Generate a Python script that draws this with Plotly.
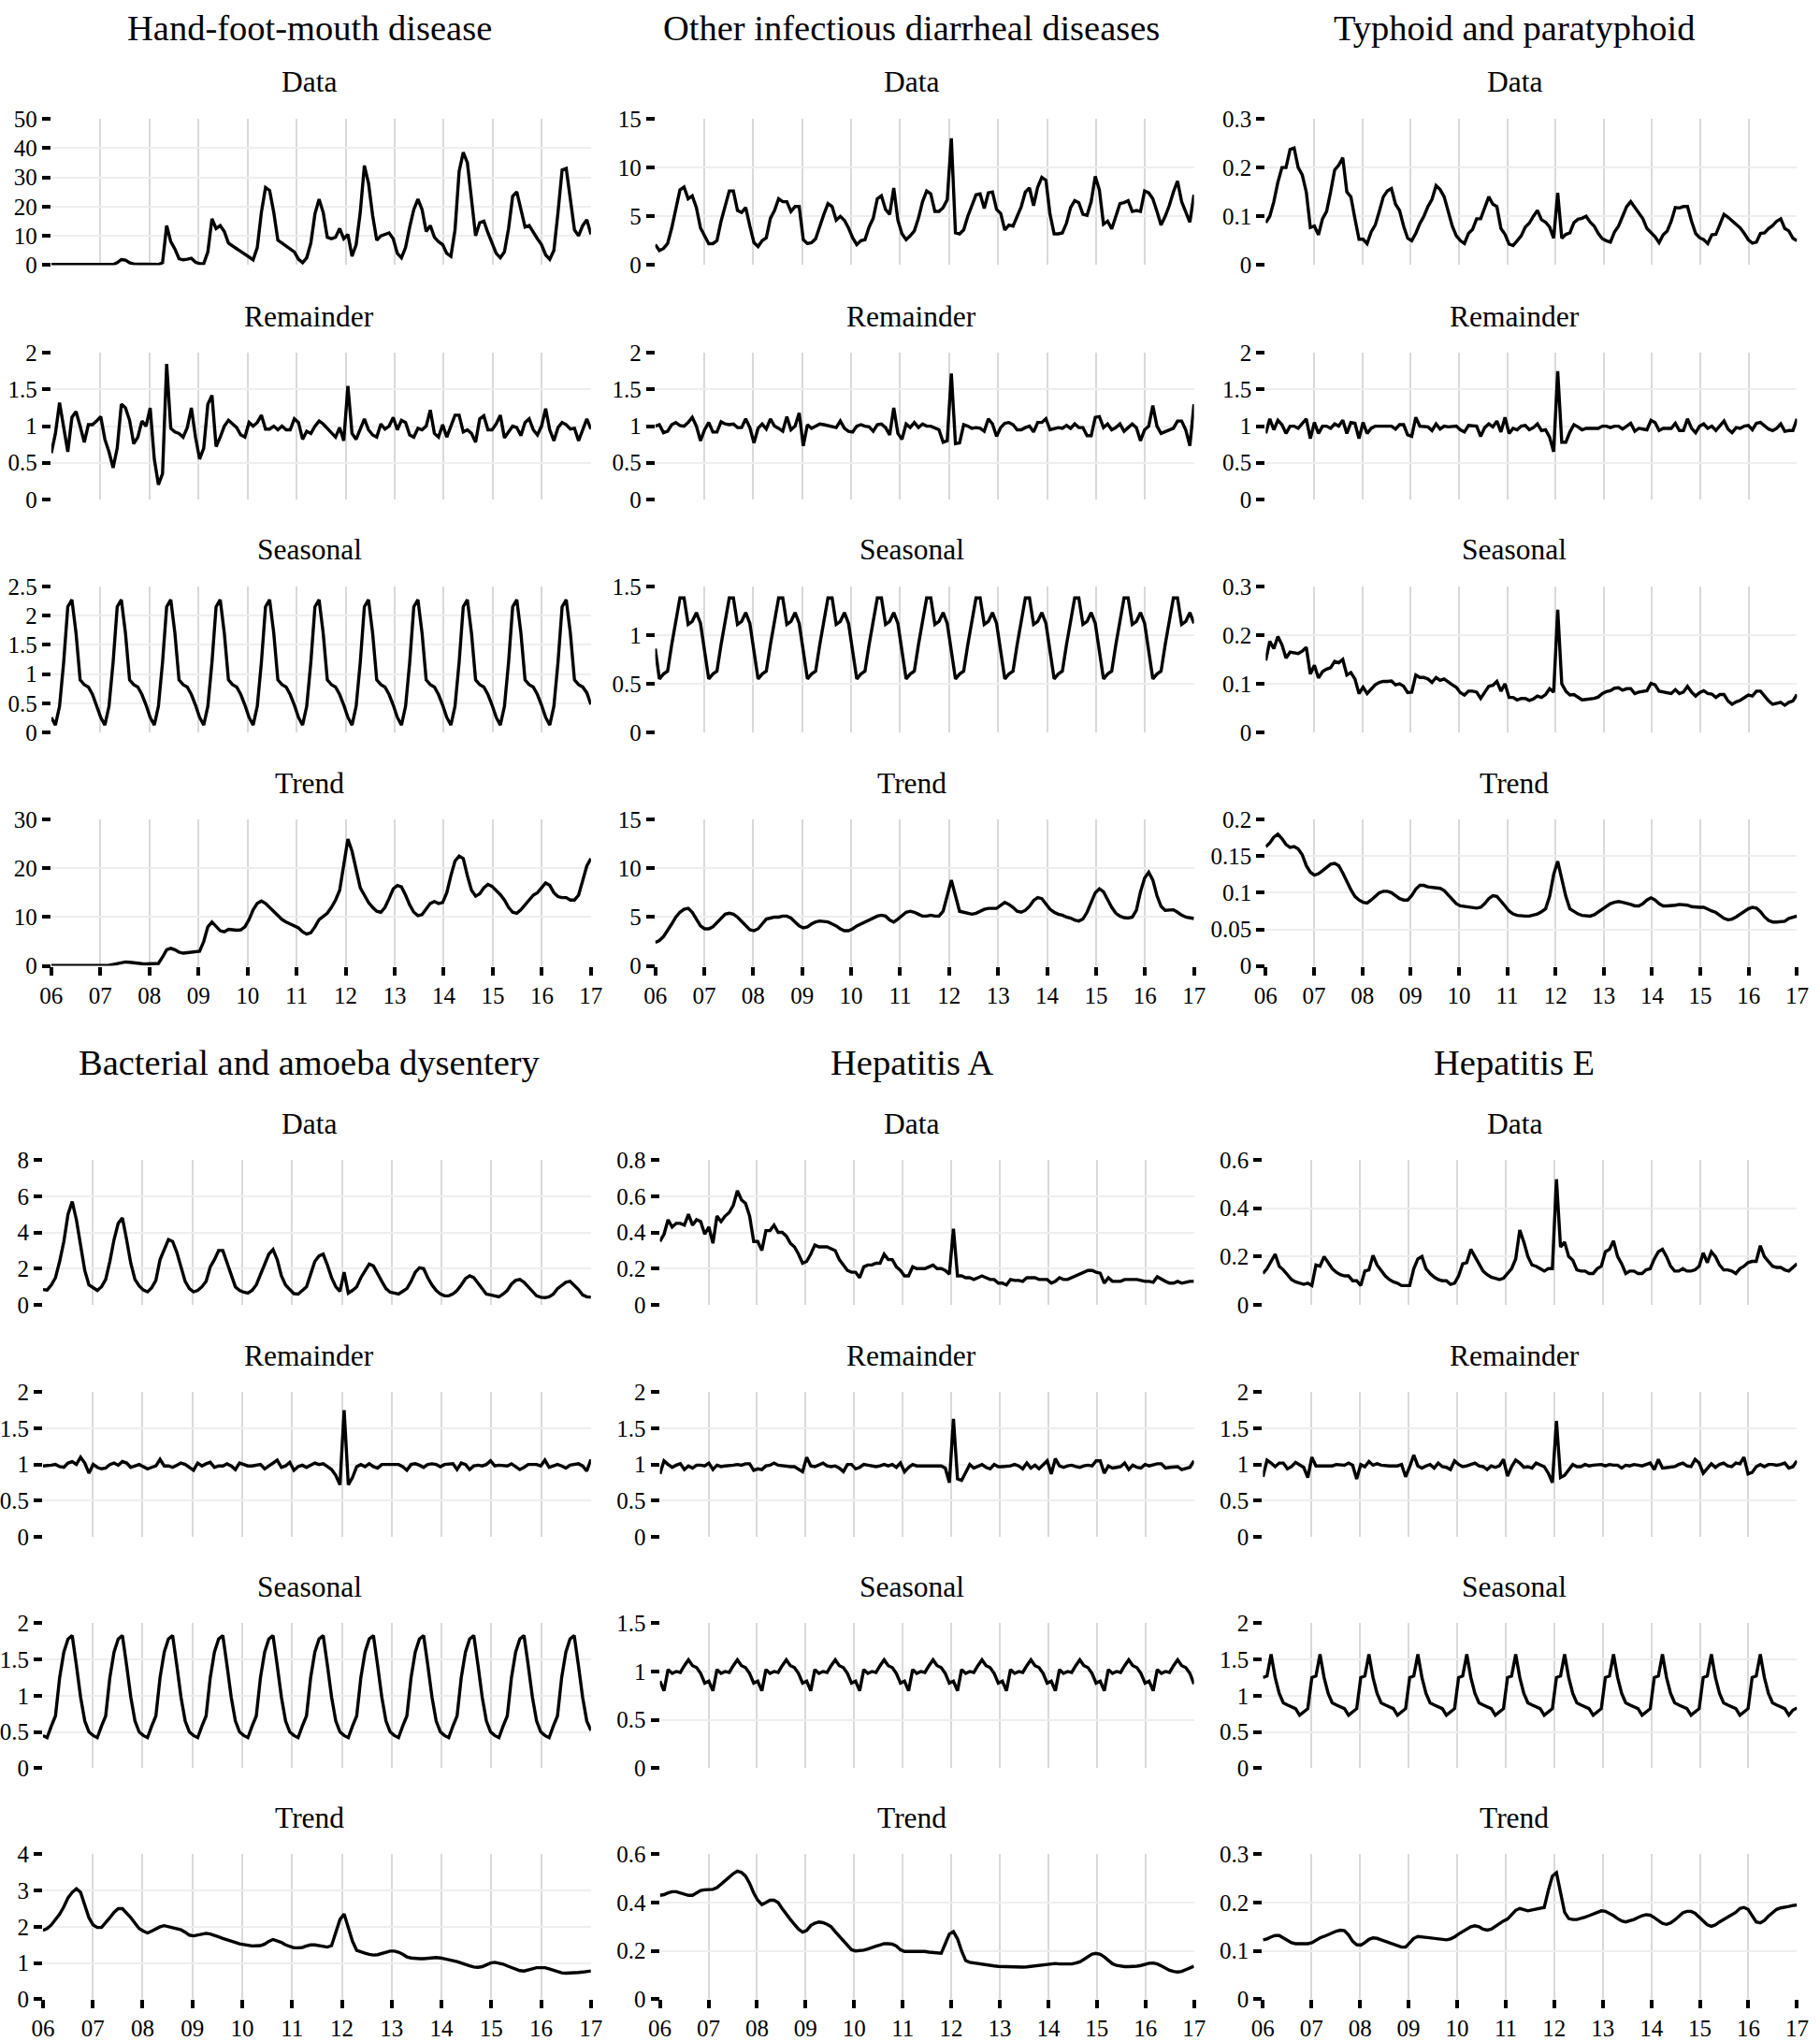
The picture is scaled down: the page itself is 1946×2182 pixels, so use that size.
import plotly.graph_objects as go

FONT = "Liberation Serif"

disease_names = ["Hand-foot-mouth disease", "Other infectious diarrheal diseases",
                 "Typhoid and paratyphoid", "Bacterial and amoeba dysentery",
                 "Hepatitis A", "Hepatitis E"]
panel_names = ["Data", "Remainder", "Seasonal", "Trend"]
year_ticks = list(range(2006, 2018))
year_labels = ["06", "07", "08", "09", "10", "11", "12", "13", "14", "15", "16", "17"]

# ---------------- Hand-foot-mouth disease ----------------
hfm_data = [
    0.2, 0.2, 0.2, 0.2, 0.3, 0.3, 0.2, 0.2, 0.2, 0.2, 0.2, 0.2,
    0.2, 0.2, 0.2, 0.2, 0.8, 1.9, 1.7, 0.8, 0.4, 0.4, 0.4, 0.4,
    0.3, 0.3, 0.2, 0.8, 13.5, 8.0, 5.5, 2.2, 1.8, 2.0, 2.3, 1.0,
    0.5, 0.5, 4.5, 15.8, 12.5, 13.5, 11.5, 7.5, 6.5, 5.5, 4.5, 3.5,
    2.8, 1.8, 6.0, 18.0, 26.5, 25.5, 18.0, 8.5, 7.5, 6.5, 5.5, 4.5,
    2.0, 0.8, 2.5, 7.5, 17.5, 22.5, 18.0, 9.5, 9.0, 9.5, 12.5, 9.0,
    10.5, 3.0, 7.0, 18.0, 34.0, 28.0, 17.0, 8.5, 10.0, 10.5, 11.0, 9.0,
    4.0, 2.5, 6.0, 13.0, 19.0, 22.5, 19.0, 11.5, 13.5, 9.5, 8.0, 7.0,
    4.0, 3.0, 12.0, 32.0, 38.5, 35.0, 22.0, 10.0, 14.5, 15.0, 11.0, 7.5,
    4.0, 2.5, 4.5, 12.5, 23.5, 25.0, 19.0, 13.0, 13.5, 11.0, 9.0, 7.0,
    3.5, 2.0, 5.0, 18.0, 32.5, 33.0, 22.0, 12.0, 10.0, 13.5, 15.5, 10.5]
hfm_remainder = [
    0.63, 0.90, 1.32, 0.95, 0.65, 1.12, 1.20, 1.00, 0.78, 1.02, 1.02, 1.07,
    1.13, 0.82, 0.65, 0.43, 0.70, 1.30, 1.25, 1.08, 0.76, 0.85, 1.07, 1.00,
    1.25, 0.55, 0.20, 0.35, 1.85, 0.97, 0.92, 0.90, 0.85, 0.98, 1.25, 0.85,
    0.55, 0.70, 1.30, 1.42, 0.72, 0.85, 1.00, 1.08, 1.03, 0.98, 0.88, 0.85,
    1.05, 1.00, 1.05, 1.15, 0.96, 0.96, 1.00, 0.95, 1.00, 0.95, 0.95, 1.10,
    1.05, 0.82, 0.93, 0.90, 1.00, 1.07, 1.03, 0.97, 0.92, 0.85, 0.98, 0.80,
    1.55, 0.90, 0.82, 0.95, 1.10, 0.95, 0.88, 0.85, 1.03, 0.96, 1.00, 1.12,
    0.95, 1.08, 1.05, 0.88, 0.85, 0.97, 0.95, 1.00, 1.22, 0.90, 0.85, 1.02,
    0.85, 1.00, 1.15, 1.15, 0.92, 0.95, 0.90, 0.78, 1.10, 1.14, 0.95, 0.95,
    1.03, 1.15, 0.84, 0.92, 1.00, 0.98, 0.87, 1.05, 1.10, 0.95, 0.88, 1.00,
    1.24, 0.95, 0.80, 0.98, 1.05, 1.02, 0.96, 0.97, 0.80, 0.95, 1.10, 0.96]
hfm_seasonal = [
    0.26, 0.13, 0.45, 1.2, 2.15, 2.27, 1.7, 0.9, 0.82, 0.78, 0.65, 0.47,
    0.26, 0.13, 0.45, 1.2, 2.15, 2.27, 1.7, 0.9, 0.82, 0.78, 0.65, 0.47,
    0.26, 0.13, 0.45, 1.2, 2.15, 2.27, 1.7, 0.9, 0.82, 0.78, 0.65, 0.47,
    0.26, 0.13, 0.45, 1.2, 2.15, 2.27, 1.7, 0.9, 0.82, 0.78, 0.65, 0.47,
    0.26, 0.13, 0.45, 1.2, 2.15, 2.27, 1.7, 0.9, 0.82, 0.78, 0.65, 0.47,
    0.26, 0.13, 0.45, 1.2, 2.15, 2.27, 1.7, 0.9, 0.82, 0.78, 0.65, 0.47,
    0.26, 0.13, 0.45, 1.2, 2.15, 2.27, 1.7, 0.9, 0.82, 0.78, 0.65, 0.47,
    0.26, 0.13, 0.45, 1.2, 2.15, 2.27, 1.7, 0.9, 0.82, 0.78, 0.65, 0.47,
    0.26, 0.13, 0.45, 1.2, 2.15, 2.27, 1.7, 0.9, 0.82, 0.78, 0.65, 0.47,
    0.26, 0.13, 0.45, 1.2, 2.15, 2.27, 1.7, 0.9, 0.82, 0.78, 0.65, 0.47,
    0.26, 0.13, 0.45, 1.2, 2.15, 2.27, 1.7, 0.9, 0.82, 0.78, 0.68, 0.48]
hfm_trend = [
    0.1, 0.1, 0.1, 0.1, 0.1, 0.1, 0.1, 0.1, 0.1, 0.1, 0.1, 0.1,
    0.1, 0.1, 0.15, 0.3, 0.5, 0.75, 0.8, 0.75, 0.6, 0.5, 0.45, 0.4,
    0.4, 0.35, 0.5, 1.8, 3.3, 3.6, 3.3, 2.8, 2.6, 2.7, 2.8, 2.8,
    3.0, 5.0, 8.0, 9.0, 8.0, 7.2, 7.0, 7.5, 7.4, 7.3, 7.4, 8.0,
    9.5, 11.5, 12.8, 13.3, 12.8, 12.0, 11.0, 10.3, 9.5, 9.0, 8.6, 8.3,
    7.8, 7.0, 6.5, 6.8, 8.0, 9.5, 10.2, 10.8, 12.0, 13.5, 15.5, 21.0,
    26.0, 23.5, 19.5, 16.0, 14.5, 13.0, 12.0, 11.2, 11.0, 12.0, 13.8, 15.8,
    16.5, 16.2, 14.5, 12.5, 11.0, 10.3, 10.5, 11.8, 12.8, 13.2, 12.8, 13.0,
    15.0, 18.5, 21.5, 22.5, 22.0, 18.5, 15.5, 14.3, 14.8, 16.0, 16.7, 16.3,
    15.5, 14.6, 13.5, 12.0, 11.0, 10.8, 11.5, 12.5, 13.6, 14.5, 15.0, 16.0,
    17.0, 16.5, 15.0, 14.2, 14.0, 14.0, 13.5, 13.5, 14.5, 17.5, 20.5, 22.0]

# ---------------- Other infectious diarrheal diseases ----------------
oid_data = [
    2.1, 1.5, 1.7, 2.2, 3.8, 5.8, 7.7, 8.0, 6.8, 7.1, 5.9, 3.8,
    3.0, 2.2, 2.2, 2.5, 4.5, 6.0, 7.6, 7.6, 5.6, 5.4, 5.9, 4.0,
    2.3, 1.9, 2.5, 2.8, 4.8, 5.6, 6.8, 6.5, 6.5, 5.5, 6.0, 6.0,
    2.6, 2.2, 2.3, 2.7, 4.0, 5.2, 6.3, 6.0, 4.6, 5.0, 4.6, 3.8,
    2.8, 2.1, 2.5, 2.6, 3.9, 4.8, 6.8, 7.1, 5.7, 5.2, 7.9, 4.6,
    3.2, 2.6, 3.0, 3.5, 4.8, 6.5, 7.6, 7.3, 5.5, 5.5, 5.9, 6.7,
    13.0, 3.3, 3.2, 3.6, 5.0, 6.0, 7.2, 7.3, 5.8, 7.4, 7.5, 5.7,
    5.3, 3.6, 4.1, 4.0, 5.0, 6.0, 7.5, 7.9, 6.1, 8.0, 9.0, 8.7,
    5.2, 3.2, 3.2, 3.3, 4.3, 5.9, 6.6, 6.4, 5.2, 5.1, 6.5, 9.1,
    7.7, 4.2, 4.5, 3.7, 5.0, 6.3, 6.4, 6.6, 5.5, 5.6, 5.5, 7.6,
    7.4, 6.8, 5.5, 4.1, 5.0, 6.1, 7.5, 8.6, 6.5, 5.5, 4.4, 7.2]
oid_remainder = [
    1.0, 1.02, 0.91, 0.93, 1.02, 1.05, 1.01, 1.0, 1.05, 1.12, 1.0, 0.8,
    0.95, 1.05, 0.92, 0.92, 1.06, 1.03, 1.02, 1.03, 0.98, 0.98, 1.1, 0.98,
    0.77, 0.97, 1.03, 0.96, 1.1, 1.0, 0.97, 0.93, 1.13, 0.95, 1.0, 1.18,
    0.73, 1.02, 0.97, 1.0, 1.03, 1.02, 1.01, 1.0, 0.98, 1.07, 0.97, 0.93,
    0.92, 1.0, 1.02, 1.0, 0.99, 0.93, 1.02, 1.03, 0.98, 0.88, 1.25, 0.9,
    0.82, 1.03, 0.98, 1.05, 0.98, 1.03, 1.0, 1.0, 0.98, 0.95, 0.78, 0.8,
    1.72, 0.76, 0.77, 1.02, 1.0, 0.97, 0.98, 0.97, 0.93, 1.1, 1.03, 0.86,
    0.98, 1.04, 1.05, 1.02, 0.95, 0.95, 0.98, 1.0, 0.92, 1.05, 1.05, 1.1,
    0.95, 0.97, 0.98, 0.97, 1.01, 0.97, 1.03, 0.98, 0.98, 0.87, 0.87, 1.12,
    1.13, 0.98, 1.03, 0.95, 0.98, 1.03, 0.93, 0.98, 1.03, 0.98, 0.8, 0.95,
    1.0, 1.28, 1.0, 0.9, 0.92, 0.95, 0.97, 1.07, 1.07, 0.95, 0.73, 1.3]
oid_seasonal = [
    0.86, 0.55, 0.60, 0.63, 0.90, 1.15, 1.38, 1.38, 1.11, 1.14, 1.23, 1.12,
    0.86, 0.55, 0.60, 0.63, 0.90, 1.15, 1.38, 1.38, 1.11, 1.14, 1.23, 1.12,
    0.86, 0.55, 0.60, 0.63, 0.90, 1.15, 1.38, 1.38, 1.11, 1.14, 1.23, 1.12,
    0.86, 0.55, 0.60, 0.63, 0.90, 1.15, 1.38, 1.38, 1.11, 1.14, 1.23, 1.12,
    0.86, 0.55, 0.60, 0.63, 0.90, 1.15, 1.38, 1.38, 1.11, 1.14, 1.23, 1.12,
    0.86, 0.55, 0.60, 0.63, 0.90, 1.15, 1.38, 1.38, 1.11, 1.14, 1.23, 1.12,
    0.86, 0.55, 0.60, 0.63, 0.90, 1.15, 1.38, 1.38, 1.11, 1.14, 1.23, 1.12,
    0.86, 0.55, 0.60, 0.63, 0.90, 1.15, 1.38, 1.38, 1.11, 1.14, 1.23, 1.12,
    0.86, 0.55, 0.60, 0.63, 0.90, 1.15, 1.38, 1.38, 1.11, 1.14, 1.23, 1.12,
    0.86, 0.55, 0.60, 0.63, 0.90, 1.15, 1.38, 1.38, 1.11, 1.14, 1.23, 1.12,
    0.86, 0.55, 0.60, 0.63, 0.90, 1.15, 1.38, 1.38, 1.11, 1.14, 1.23, 1.12]
oid_trend = [
    2.4, 2.6, 3.0, 3.6, 4.3, 5.0, 5.5, 5.8, 5.9, 5.5, 4.8, 4.1,
    3.8, 3.8, 4.0, 4.4, 4.9, 5.3, 5.4, 5.3, 5.0, 4.6, 4.1, 3.7,
    3.6, 3.8, 4.3, 4.8, 4.9, 5.0, 5.0, 5.1, 5.1, 4.9, 4.5, 4.1,
    3.9, 4.0, 4.3, 4.5, 4.6, 4.55, 4.5, 4.3, 4.1, 3.8, 3.6, 3.6,
    3.8, 4.1, 4.3, 4.5, 4.7, 4.9, 5.1, 5.2, 5.1, 4.7, 4.5, 4.8,
    5.2, 5.5, 5.6, 5.5, 5.3, 5.1, 5.1, 5.2, 5.1, 5.1, 5.6, 7.2,
    8.8, 7.2, 5.6, 5.5, 5.4, 5.3, 5.4, 5.6, 5.8, 5.9, 5.9, 5.9,
    6.2, 6.5, 6.3, 6.0, 5.6, 5.5, 5.7, 6.1, 6.7, 7.0, 6.9, 6.4,
    5.8, 5.5, 5.3, 5.2, 5.0, 4.9, 4.7, 4.6, 4.8, 5.5, 6.5, 7.5,
    7.9, 7.6, 6.8, 6.0, 5.4, 5.1, 4.95, 4.9, 5.0, 5.7, 7.6, 9.0,
    9.6, 8.8, 7.2, 6.1, 5.7, 5.7, 5.75, 5.5, 5.2, 5.0, 4.9, 4.85]

# ---------------- Typhoid and paratyphoid ----------------
typ_data = [
    0.087, 0.1, 0.13, 0.17, 0.2, 0.2, 0.237, 0.24, 0.2, 0.185, 0.15, 0.077,
    0.08, 0.062, 0.095, 0.11, 0.15, 0.195, 0.205, 0.22, 0.15, 0.14, 0.095, 0.053,
    0.053, 0.044, 0.068, 0.082, 0.11, 0.14, 0.152, 0.157, 0.125, 0.112, 0.08, 0.055,
    0.05, 0.065, 0.085, 0.1, 0.12, 0.135, 0.163, 0.155, 0.14, 0.11, 0.08, 0.06,
    0.05, 0.044, 0.065, 0.073, 0.095, 0.095, 0.12, 0.14, 0.125, 0.12, 0.075, 0.063,
    0.043, 0.04, 0.05, 0.06, 0.078, 0.086, 0.1, 0.112, 0.093, 0.088, 0.078, 0.055,
    0.148, 0.055, 0.063, 0.066, 0.087, 0.094, 0.096, 0.1, 0.088, 0.08, 0.065, 0.054,
    0.05, 0.047, 0.068, 0.08, 0.1, 0.12, 0.13, 0.118, 0.105, 0.095, 0.075, 0.066,
    0.058, 0.046, 0.062, 0.07, 0.09, 0.118, 0.117, 0.12, 0.12, 0.09, 0.065, 0.056,
    0.052, 0.044, 0.062, 0.063, 0.085, 0.104, 0.098, 0.09, 0.084, 0.076, 0.065, 0.052,
    0.045, 0.047, 0.065, 0.066, 0.075, 0.081, 0.09, 0.095, 0.075, 0.07, 0.055, 0.05]
typ_remainder = [
    0.9, 1.1, 0.95, 1.08, 1.02, 0.9, 1.0, 1.0, 0.97, 1.03, 1.1, 0.83,
    1.05, 0.9, 1.0, 1.0, 0.97, 1.03, 1.0, 1.08, 0.9, 1.05, 1.04, 0.83,
    1.05, 0.9, 0.97, 1.0, 1.0, 1.0, 1.0, 1.0, 0.96, 1.02, 1.02, 0.88,
    0.86, 1.12, 1.0, 1.0, 0.99, 0.94, 1.03, 0.96, 1.0, 0.99, 0.99, 1.0,
    0.95, 0.92, 1.01, 1.01, 1.0, 0.86, 0.98, 1.03, 0.99, 1.07, 0.92, 1.12,
    0.9, 0.97, 0.95, 1.0, 1.01, 0.95, 0.98, 1.03, 0.94, 0.95, 0.85, 0.65,
    1.75, 0.78, 0.78, 0.92, 1.02, 0.99, 0.95, 0.97, 0.97, 0.97, 0.97, 1.0,
    1.0, 0.98, 1.0, 1.0, 0.96, 1.0, 1.04, 0.93, 0.97, 0.96, 0.95, 1.08,
    1.05, 0.94, 0.97, 0.97, 0.97, 1.04, 0.94, 0.94, 1.1, 0.97, 0.91, 1.0,
    1.03, 0.97, 1.0, 0.94, 1.0, 1.07, 0.96, 0.91, 0.98, 0.97, 1.0, 1.01,
    0.95, 1.04, 1.05, 1.0, 0.96, 0.94, 0.97, 1.03, 0.93, 0.94, 0.94, 1.1]
typ_seasonal = [
    0.148, 0.187, 0.172, 0.197, 0.18, 0.153, 0.165, 0.163, 0.162, 0.167, 0.175, 0.12,
    0.138, 0.112, 0.125, 0.13, 0.133, 0.146, 0.143, 0.15, 0.118, 0.123, 0.11, 0.08,
    0.093, 0.08, 0.09, 0.098, 0.103, 0.105, 0.105, 0.106, 0.098, 0.1, 0.095, 0.082,
    0.083, 0.118, 0.113, 0.113, 0.11, 0.103, 0.113, 0.107, 0.11, 0.103, 0.098, 0.093,
    0.082, 0.077, 0.085, 0.085, 0.083, 0.07, 0.083, 0.095, 0.097, 0.105, 0.085, 0.1,
    0.072, 0.072, 0.067, 0.07, 0.07, 0.066, 0.069, 0.075, 0.072, 0.078, 0.09, 0.083,
    0.252, 0.1, 0.085, 0.077, 0.078, 0.072, 0.067, 0.068, 0.069, 0.07, 0.073, 0.08,
    0.084, 0.086, 0.091, 0.092, 0.087, 0.09, 0.09, 0.08, 0.083, 0.084, 0.086, 0.101,
    0.098, 0.085, 0.083, 0.082, 0.08, 0.088, 0.08, 0.083, 0.095, 0.083, 0.075, 0.082,
    0.086, 0.08, 0.079, 0.072, 0.078, 0.078, 0.065, 0.058, 0.063, 0.066, 0.072, 0.077,
    0.075, 0.085, 0.085, 0.075, 0.065, 0.058, 0.06, 0.062, 0.056, 0.062, 0.065, 0.078]
typ_trend = [
    0.163, 0.168, 0.176, 0.18, 0.174, 0.166, 0.162, 0.163, 0.16, 0.152, 0.137, 0.128,
    0.124, 0.126, 0.13, 0.135, 0.139, 0.14, 0.137, 0.127, 0.115, 0.104, 0.095, 0.09,
    0.087, 0.086, 0.09, 0.095, 0.1, 0.102, 0.102, 0.1, 0.096, 0.092, 0.09, 0.09,
    0.096, 0.105, 0.11, 0.11, 0.108, 0.107, 0.107, 0.106, 0.103, 0.097, 0.09, 0.085,
    0.082, 0.081, 0.081, 0.08, 0.079, 0.08, 0.085, 0.092, 0.096, 0.095, 0.089, 0.082,
    0.075, 0.071, 0.069, 0.068, 0.068, 0.068, 0.069, 0.071, 0.074, 0.078, 0.095, 0.125,
    0.143, 0.12, 0.095, 0.078, 0.074, 0.071, 0.069, 0.068, 0.068, 0.07, 0.074, 0.078,
    0.082, 0.085, 0.087, 0.088, 0.087, 0.086, 0.084, 0.082, 0.082, 0.085, 0.09, 0.093,
    0.09, 0.085, 0.082, 0.082, 0.082, 0.083, 0.084, 0.084, 0.083, 0.081, 0.08, 0.08,
    0.08, 0.077, 0.075, 0.073, 0.069, 0.065, 0.063, 0.064, 0.067, 0.071, 0.075, 0.078,
    0.08, 0.079, 0.074, 0.067, 0.062, 0.06, 0.06, 0.06, 0.061, 0.065, 0.067, 0.068]

# ---------------- Bacterial and amoeba dysentery ----------------
bad_data = [
    0.85, 0.82, 1.1, 1.5, 2.4, 3.5, 5.0, 5.7, 4.7, 3.4, 1.9, 1.1,
    0.95, 0.8, 1.0, 1.4, 2.4, 3.6, 4.5, 4.8, 3.6, 2.3, 1.4, 1.05,
    0.82, 0.72, 0.95, 1.35, 2.5, 3.0, 3.6, 3.5, 2.9, 2.1, 1.3, 0.9,
    0.72, 0.8, 1.0, 1.3, 2.1, 2.5, 3.0, 3.0, 2.3, 1.6, 1.0, 0.8,
    0.7, 0.65, 0.8, 1.1, 1.7, 2.2, 2.8, 3.05, 2.5, 1.6, 1.1, 0.85,
    0.62, 0.6, 0.8, 1.0, 1.7, 2.4, 2.7, 2.8, 2.2, 1.5, 1.0, 0.75,
    1.8, 0.65, 0.8, 1.0, 1.5, 1.9, 2.25, 2.15, 1.7, 1.3, 0.9, 0.7,
    0.65, 0.6, 0.75, 0.9, 1.3, 1.8, 2.05, 2.0, 1.5, 1.1, 0.8, 0.6,
    0.5, 0.5, 0.6, 0.8, 1.1, 1.45, 1.6, 1.5, 1.2, 0.9, 0.6, 0.55,
    0.5, 0.45, 0.6, 0.8, 1.15, 1.35, 1.4, 1.25, 1.0, 0.75, 0.5, 0.42,
    0.4, 0.45, 0.6, 0.9, 1.1, 1.25, 1.3, 1.1, 0.85, 0.55, 0.45, 0.42]
bad_remainder = [
    0.98, 0.98, 0.99, 1.0, 0.97, 0.96, 1.02, 1.04, 1.0, 1.1, 1.02, 0.88,
    1.0, 0.96, 0.94, 0.95, 1.0, 1.02, 0.99, 1.04, 1.02, 0.96, 0.98, 1.0,
    0.97, 0.94, 0.96, 0.98, 1.07, 0.98, 0.98, 0.96, 0.99, 1.02, 1.0, 0.96,
    0.92, 1.02, 0.98, 1.01, 1.03, 0.96, 0.98, 0.98, 1.01, 0.98, 0.93, 1.02,
    1.0, 0.98, 0.98, 0.99, 1.0, 0.94, 0.98, 1.02, 1.06, 0.96, 0.98, 1.03,
    0.92, 0.97, 0.99, 0.96, 0.99, 1.02, 1.0, 1.01, 0.97, 0.93, 0.85, 0.72,
    1.75, 0.72, 0.82, 0.97, 1.0, 0.97, 1.01, 0.97, 0.95, 1.0, 1.0, 1.0,
    1.01, 1.0, 0.97, 0.92, 1.0, 1.01, 0.99, 0.96, 1.0, 1.01, 1.0, 0.97,
    1.0, 1.0, 1.01, 0.93, 1.02, 1.0, 0.93, 0.98, 0.99, 0.98, 1.0, 1.05,
    0.98, 0.99, 0.99, 0.98, 1.01, 0.97, 0.93, 0.96, 1.0, 1.0, 1.0, 0.98,
    1.06, 0.96, 0.98, 1.0, 0.98, 0.95, 0.99, 1.0, 1.01, 0.98, 0.91, 1.07]
bad_seasonal = [
    0.45, 0.42, 0.58, 0.72, 1.25, 1.6, 1.78, 1.83, 1.42, 0.98, 0.65, 0.50,
    0.45, 0.42, 0.58, 0.72, 1.25, 1.6, 1.78, 1.83, 1.42, 0.98, 0.65, 0.50,
    0.45, 0.42, 0.58, 0.72, 1.25, 1.6, 1.78, 1.83, 1.42, 0.98, 0.65, 0.50,
    0.45, 0.42, 0.58, 0.72, 1.25, 1.6, 1.78, 1.83, 1.42, 0.98, 0.65, 0.50,
    0.45, 0.42, 0.58, 0.72, 1.25, 1.6, 1.78, 1.83, 1.42, 0.98, 0.65, 0.50,
    0.45, 0.42, 0.58, 0.72, 1.25, 1.6, 1.78, 1.83, 1.42, 0.98, 0.65, 0.50,
    0.45, 0.42, 0.58, 0.72, 1.25, 1.6, 1.78, 1.83, 1.42, 0.98, 0.65, 0.50,
    0.45, 0.42, 0.58, 0.72, 1.25, 1.6, 1.78, 1.83, 1.42, 0.98, 0.65, 0.50,
    0.45, 0.42, 0.58, 0.72, 1.25, 1.6, 1.78, 1.83, 1.42, 0.98, 0.65, 0.50,
    0.45, 0.42, 0.58, 0.72, 1.25, 1.6, 1.78, 1.83, 1.42, 0.98, 0.65, 0.50,
    0.45, 0.42, 0.58, 0.72, 1.25, 1.6, 1.78, 1.83, 1.42, 0.98, 0.65, 0.52]
bad_trend = [
    1.9, 1.95, 2.05, 2.2, 2.35, 2.55, 2.8, 2.95, 3.05, 2.95, 2.6, 2.25,
    2.05, 1.98, 1.98, 2.1, 2.25, 2.4, 2.5, 2.5, 2.38, 2.25, 2.1, 1.95,
    1.88, 1.83, 1.88, 1.95, 2.0, 2.03, 2.0, 1.97, 1.95, 1.92, 1.85, 1.77,
    1.75, 1.77, 1.8, 1.82, 1.8, 1.75, 1.72, 1.68, 1.65, 1.6, 1.57, 1.53,
    1.5, 1.49, 1.47, 1.47, 1.48, 1.52, 1.6, 1.65, 1.62, 1.57, 1.5, 1.45,
    1.42, 1.42, 1.43, 1.47, 1.5, 1.5, 1.48, 1.46, 1.44, 1.48, 1.85, 2.2,
    2.35, 2.0, 1.6, 1.35, 1.3, 1.27, 1.24, 1.22, 1.23, 1.27, 1.31, 1.33,
    1.33, 1.3, 1.24, 1.17, 1.14, 1.12, 1.12, 1.12, 1.13, 1.15, 1.15, 1.14,
    1.12, 1.1, 1.07, 1.04, 1.0, 0.95, 0.92, 0.89, 0.88, 0.9, 0.95, 1.0,
    1.02, 1.0, 0.97, 0.92, 0.88, 0.83, 0.79, 0.78, 0.8, 0.84, 0.87, 0.87,
    0.87, 0.84, 0.8, 0.76, 0.73, 0.72, 0.72, 0.73, 0.74, 0.75, 0.77, 0.78]

# ---------------- Hepatitis A ----------------
hepa_data = [
    0.35, 0.39, 0.47, 0.43, 0.45, 0.45, 0.44, 0.5, 0.44, 0.47, 0.46, 0.39,
    0.43, 0.34, 0.49, 0.46, 0.49, 0.51, 0.55, 0.63, 0.58, 0.56, 0.49, 0.35,
    0.35, 0.3, 0.41, 0.41, 0.44, 0.4, 0.4, 0.38, 0.34, 0.32, 0.28, 0.23,
    0.24, 0.28, 0.33, 0.32, 0.32, 0.32, 0.31, 0.3, 0.25, 0.22, 0.19, 0.18,
    0.18, 0.15, 0.21, 0.22, 0.22, 0.23, 0.23, 0.28, 0.25, 0.25, 0.21, 0.19,
    0.16, 0.16, 0.21, 0.2, 0.2, 0.2, 0.21, 0.22, 0.2, 0.2, 0.19, 0.17,
    0.42, 0.16, 0.16, 0.15, 0.15, 0.14, 0.15, 0.16, 0.15, 0.14, 0.14, 0.12,
    0.12, 0.11, 0.14, 0.135, 0.135, 0.13, 0.15, 0.15, 0.15, 0.14, 0.14, 0.14,
    0.12, 0.13, 0.15, 0.14, 0.14, 0.15, 0.16, 0.17, 0.18, 0.19, 0.19, 0.18,
    0.175, 0.12, 0.15, 0.13, 0.13, 0.13, 0.14, 0.14, 0.14, 0.14, 0.135, 0.13,
    0.13, 0.125, 0.155, 0.14, 0.13, 0.12, 0.12, 0.13, 0.12, 0.125, 0.13, 0.13]
hepa_remainder = [
    0.87, 1.05, 1.0, 0.96, 0.99, 1.01, 0.93, 0.98, 0.95, 0.99, 0.99, 0.98,
    1.02, 0.93, 0.99, 0.97, 0.98, 0.98, 0.99, 1.0, 0.99, 1.01, 1.01, 0.92,
    0.94, 0.93, 0.98, 0.99, 1.02, 0.99, 0.98, 0.97, 0.97, 0.97, 0.93, 0.9,
    1.1, 0.98, 0.97, 1.0, 1.02, 0.98, 0.97, 0.98, 0.95, 0.9, 1.0, 1.0,
    0.94, 0.96, 1.0, 0.99, 0.98, 0.97, 0.98, 1.0, 0.98, 1.0, 0.96, 1.02,
    0.9, 0.96, 1.0, 0.98, 0.98, 0.98, 0.97, 0.98, 0.97, 0.98, 0.95, 0.75,
    1.63, 0.8, 0.78, 0.9, 1.0, 0.95, 0.97, 1.0, 0.96, 0.94, 1.0, 0.97,
    0.97, 0.97, 0.98, 1.0, 0.98, 0.94, 1.02, 0.95, 0.99, 0.94, 1.0, 1.05,
    0.87, 1.08, 0.98, 0.96, 0.98, 0.99, 0.97, 0.96, 0.98, 0.99, 0.98, 1.05,
    1.05, 0.88, 0.98, 0.95, 0.96, 0.97, 1.02, 0.93, 0.99, 0.96, 0.95, 1.0,
    0.98, 1.0, 1.01, 1.01, 0.95, 0.96, 0.96, 0.97, 0.93, 0.95, 0.96, 1.05]
hepa_seasonal = [
    0.90, 0.80, 1.02, 0.98, 1.00, 0.99, 1.06, 1.12, 1.06, 1.04, 0.98, 0.88,
    0.90, 0.80, 1.02, 0.98, 1.00, 0.99, 1.06, 1.12, 1.06, 1.04, 0.98, 0.88,
    0.90, 0.80, 1.02, 0.98, 1.00, 0.99, 1.06, 1.12, 1.06, 1.04, 0.98, 0.88,
    0.90, 0.80, 1.02, 0.98, 1.00, 0.99, 1.06, 1.12, 1.06, 1.04, 0.98, 0.88,
    0.90, 0.80, 1.02, 0.98, 1.00, 0.99, 1.06, 1.12, 1.06, 1.04, 0.98, 0.88,
    0.90, 0.80, 1.02, 0.98, 1.00, 0.99, 1.06, 1.12, 1.06, 1.04, 0.98, 0.88,
    0.90, 0.80, 1.02, 0.98, 1.00, 0.99, 1.06, 1.12, 1.06, 1.04, 0.98, 0.88,
    0.90, 0.80, 1.02, 0.98, 1.00, 0.99, 1.06, 1.12, 1.06, 1.04, 0.98, 0.88,
    0.90, 0.80, 1.02, 0.98, 1.00, 0.99, 1.06, 1.12, 1.06, 1.04, 0.98, 0.88,
    0.90, 0.80, 1.02, 0.98, 1.00, 0.99, 1.06, 1.12, 1.06, 1.04, 0.98, 0.88,
    0.90, 0.80, 1.02, 0.98, 1.00, 0.99, 1.06, 1.12, 1.06, 1.04, 0.98, 0.87]
hepa_trend = [
    0.43, 0.433, 0.44, 0.445, 0.445, 0.44, 0.435, 0.43, 0.43, 0.44, 0.45, 0.453,
    0.455, 0.455, 0.462, 0.475, 0.49, 0.505, 0.52, 0.53, 0.525, 0.51, 0.48, 0.44,
    0.41, 0.392, 0.4, 0.41, 0.41, 0.4, 0.375, 0.35, 0.33, 0.31, 0.29, 0.278,
    0.285, 0.305, 0.315, 0.32, 0.317, 0.31, 0.3, 0.28, 0.26, 0.24, 0.22, 0.205,
    0.2, 0.2, 0.203, 0.208, 0.215, 0.22, 0.225, 0.23, 0.23, 0.228, 0.22, 0.205,
    0.198, 0.198, 0.2, 0.2, 0.2, 0.198, 0.195, 0.193, 0.19, 0.19, 0.23, 0.27,
    0.28, 0.25, 0.2, 0.16, 0.153, 0.15, 0.147, 0.145, 0.142, 0.14, 0.138, 0.136,
    0.135, 0.134, 0.133, 0.133, 0.133, 0.133, 0.134, 0.136, 0.138, 0.14, 0.143, 0.146,
    0.148, 0.148, 0.146, 0.145, 0.145, 0.146, 0.15, 0.155, 0.165, 0.177, 0.187, 0.19,
    0.186, 0.175, 0.16, 0.147, 0.14, 0.136, 0.135, 0.135, 0.135, 0.137, 0.14, 0.145,
    0.149, 0.15, 0.146, 0.138, 0.128, 0.12, 0.115, 0.113, 0.115, 0.123, 0.131, 0.137]

# ---------------- Hepatitis E ----------------
hepe_data = [
    0.13, 0.15, 0.18, 0.21, 0.16, 0.145, 0.125, 0.105, 0.095, 0.09, 0.085, 0.09,
    0.08, 0.165, 0.16, 0.2, 0.175, 0.15, 0.135, 0.125, 0.12, 0.12, 0.1, 0.1,
    0.08, 0.14, 0.145, 0.205, 0.165, 0.14, 0.12, 0.105, 0.095, 0.09, 0.08, 0.08,
    0.08, 0.15, 0.19, 0.2, 0.15, 0.13, 0.115, 0.105, 0.1, 0.1, 0.085, 0.09,
    0.12, 0.17, 0.175, 0.23, 0.2, 0.175, 0.14, 0.125, 0.115, 0.11, 0.105, 0.11,
    0.13, 0.15, 0.19, 0.31, 0.26, 0.2, 0.165, 0.16, 0.15, 0.14, 0.15, 0.15,
    0.52, 0.24, 0.26, 0.2, 0.185, 0.145, 0.14, 0.14, 0.13, 0.13, 0.15, 0.16,
    0.22, 0.23, 0.265, 0.2, 0.17, 0.13, 0.14, 0.14, 0.13, 0.13, 0.145, 0.15,
    0.19, 0.22, 0.23, 0.2, 0.16, 0.14, 0.14, 0.15, 0.14, 0.14, 0.145, 0.16,
    0.215, 0.175, 0.22, 0.2, 0.165, 0.145, 0.145, 0.14, 0.13, 0.15, 0.16, 0.175,
    0.18, 0.18, 0.245, 0.2, 0.18, 0.16, 0.155, 0.155, 0.145, 0.14, 0.155, 0.17]
hepe_remainder = [
    0.83, 1.06, 1.02, 0.97, 1.02, 1.02, 0.94, 0.97, 1.03, 1.0, 0.96, 0.82,
    1.1, 0.98, 0.98, 0.98, 0.99, 0.98, 1.0, 1.0, 0.99, 1.02, 0.99, 0.8,
    1.0, 0.97, 1.04, 0.99, 1.01, 0.99, 0.98, 0.98, 0.98, 0.98, 1.0, 0.83,
    0.97, 1.13, 0.98, 0.95, 0.98, 1.0, 0.95, 1.02, 0.97, 0.96, 0.93, 1.05,
    1.0, 0.97, 0.98, 1.0, 1.02, 0.98, 0.97, 0.93, 0.98, 0.96, 0.98, 1.07,
    0.84, 0.97, 1.06, 1.02, 0.96, 0.97, 0.95, 1.02, 1.0, 0.97, 0.88, 0.75,
    1.6, 0.82, 0.85, 0.92, 1.0, 0.97, 0.97, 1.0, 0.98, 0.99, 1.0, 1.0,
    0.98, 1.0, 0.99, 0.99, 0.95, 0.99, 0.98, 1.0, 0.99, 0.98, 1.0, 1.02,
    0.93, 1.07, 0.95, 0.96, 0.96, 0.97, 1.0, 1.02, 0.98, 0.97, 1.07, 1.02,
    0.88, 0.95, 1.01, 0.96, 1.0, 1.02, 0.98, 0.97, 1.02, 1.01, 1.1, 0.87,
    0.89, 0.97, 1.0, 0.97, 1.0, 1.0, 0.99, 1.0, 1.02, 0.95, 0.97, 1.05]
hepe_seasonal = [
    1.25, 1.27, 1.57, 1.25, 1.03, 0.90, 0.87, 0.85, 0.82, 0.73, 0.77, 0.82,
    1.25, 1.27, 1.57, 1.25, 1.03, 0.90, 0.87, 0.85, 0.82, 0.73, 0.77, 0.82,
    1.25, 1.27, 1.57, 1.25, 1.03, 0.90, 0.87, 0.85, 0.82, 0.73, 0.77, 0.82,
    1.25, 1.27, 1.57, 1.25, 1.03, 0.90, 0.87, 0.85, 0.82, 0.73, 0.77, 0.82,
    1.25, 1.27, 1.57, 1.25, 1.03, 0.90, 0.87, 0.85, 0.82, 0.73, 0.77, 0.82,
    1.25, 1.27, 1.57, 1.25, 1.03, 0.90, 0.87, 0.85, 0.82, 0.73, 0.77, 0.82,
    1.25, 1.27, 1.57, 1.25, 1.03, 0.90, 0.87, 0.85, 0.82, 0.73, 0.77, 0.82,
    1.25, 1.27, 1.57, 1.25, 1.03, 0.90, 0.87, 0.85, 0.82, 0.73, 0.77, 0.82,
    1.25, 1.27, 1.57, 1.25, 1.03, 0.90, 0.87, 0.85, 0.82, 0.73, 0.77, 0.82,
    1.25, 1.27, 1.57, 1.25, 1.03, 0.90, 0.87, 0.85, 0.82, 0.73, 0.77, 0.82,
    1.25, 1.27, 1.57, 1.25, 1.03, 0.90, 0.87, 0.85, 0.82, 0.73, 0.80, 0.83]
hepe_trend = [
    0.123, 0.125, 0.129, 0.132, 0.132, 0.127, 0.121, 0.117, 0.115, 0.115, 0.115, 0.115,
    0.117, 0.122, 0.127, 0.13, 0.134, 0.138, 0.141, 0.143, 0.142, 0.133, 0.12, 0.113,
    0.112, 0.117, 0.124, 0.127, 0.126, 0.123, 0.12, 0.117, 0.114, 0.111, 0.108, 0.108,
    0.116, 0.126, 0.13, 0.129, 0.128, 0.127, 0.127, 0.126, 0.124, 0.123, 0.125, 0.129,
    0.135, 0.14, 0.145, 0.15, 0.152, 0.15, 0.145, 0.143, 0.145, 0.151, 0.157, 0.162,
    0.166, 0.174, 0.184, 0.188, 0.185, 0.183, 0.185, 0.187, 0.189, 0.19, 0.225, 0.255,
    0.262, 0.22, 0.18, 0.167, 0.165, 0.165, 0.167, 0.17, 0.173, 0.176, 0.18, 0.183,
    0.182, 0.178, 0.173, 0.167, 0.162, 0.16, 0.162, 0.165, 0.169, 0.173, 0.175, 0.174,
    0.169, 0.162, 0.157, 0.155, 0.158, 0.164, 0.172, 0.179, 0.182, 0.182, 0.178, 0.17,
    0.161, 0.154, 0.151, 0.154, 0.16, 0.165, 0.169, 0.175, 0.18, 0.188, 0.19, 0.186,
    0.172, 0.16, 0.158, 0.163, 0.172, 0.18, 0.186, 0.189, 0.19, 0.192, 0.194, 0.195]

series = [
    [hfm_data, hfm_remainder, hfm_seasonal, hfm_trend],
    [oid_data, oid_remainder, oid_seasonal, oid_trend],
    [typ_data, typ_remainder, typ_seasonal, typ_trend],
    [bad_data, bad_remainder, bad_seasonal, bad_trend],
    [hepa_data, hepa_remainder, hepa_seasonal, hepa_trend],
    [hepe_data, hepe_remainder, hepe_seasonal, hepe_trend],
]

# y-axis ticks (values, labels) per disease / panel
rem_ticks = ([0, 0.5, 1, 1.5, 2], ["0", "0.5", "1", "1.5", "2"])
y_ticks = [
    [([0, 10, 20, 30, 40, 50], ["0", "10", "20", "30", "40", "50"]), rem_ticks,
     ([0, 0.5, 1, 1.5, 2, 2.5], ["0", "0.5", "1", "1.5", "2", "2.5"]),
     ([0, 10, 20, 30], ["0", "10", "20", "30"])],
    [([0, 5, 10, 15], ["0", "5", "10", "15"]), rem_ticks,
     ([0, 0.5, 1, 1.5], ["0", "0.5", "1", "1.5"]),
     ([0, 5, 10, 15], ["0", "5", "10", "15"])],
    [([0, 0.1, 0.2, 0.3], ["0", "0.1", "0.2", "0.3"]), rem_ticks,
     ([0, 0.1, 0.2, 0.3], ["0", "0.1", "0.2", "0.3"]),
     ([0, 0.05, 0.1, 0.15, 0.2], ["0", "0.05", "0.1", "0.15", "0.2"])],
    [([0, 2, 4, 6, 8], ["0", "2", "4", "6", "8"]), rem_ticks,
     ([0, 0.5, 1, 1.5, 2], ["0", "0.5", "1", "1.5", "2"]),
     ([0, 1, 2, 3, 4], ["0", "1", "2", "3", "4"])],
    [([0, 0.2, 0.4, 0.6, 0.8], ["0", "0.2", "0.4", "0.6", "0.8"]), rem_ticks,
     ([0, 0.5, 1, 1.5], ["0", "0.5", "1", "1.5"]),
     ([0, 0.2, 0.4, 0.6], ["0", "0.2", "0.4", "0.6"])],
    [([0, 0.2, 0.4, 0.6], ["0", "0.2", "0.4", "0.6"]), rem_ticks,
     ([0, 0.5, 1, 1.5, 2], ["0", "0.5", "1", "1.5", "2"]),
     ([0, 0.1, 0.2, 0.3], ["0", "0.1", "0.2", "0.3"])],
]

# ---------------- layout geometry (pixels) ----------------
W, H = 1946, 2182
SC, OFF = 0.988, 11.0


def adj(v):
    # compensate the slight shrink/offset seen in the rendered page
    return (v - OFF) / SC


col_ref = [[(49, 628), (697, 1275), (1352, 1922)],
           [(40, 628), (702, 1275), (1349, 1922)]]
col_px = [[(adj(a), adj(b)) for a, b in row] for row in col_ref]
label_cx = [adj(326), adj(972), adj(1619)]

rel_tops = [0, 250.5, 500, 749.5]
ref_h = 156.5
# top half
top_start = adj(125)
top_scale = 1 / SC
# bottom half: fit so the bottom tick labels stay inside the page
bot_start = adj(1238.5)
bot_end = 2151.0
bot_scale = (bot_end - bot_start) / (rel_tops[-1] + ref_h)


def panel_box(half, p):
    if half == 0:
        t = top_start + rel_tops[p] * top_scale
        return t, t + ref_h * top_scale
    t = bot_start + rel_tops[p] * bot_scale
    return t, t + ref_h * bot_scale


title_y = [17.5, adj(1134.5)]

fig = go.Figure()
layout = dict(
    width=W, height=H, margin=dict(l=0, r=0, t=0, b=0),
    paper_bgcolor="white", plot_bgcolor="white", showlegend=False,
    font=dict(family=FONT, color="black"),
)
annotations = []
k = 0
for d in range(6):
    half, col = divmod(d, 3)
    x0, x1 = col_px[half][col]
    annotations.append(dict(
        text=disease_names[d], x=label_cx[col] / W,
        y=1 - title_y[half] / H, xref="paper", yref="paper",
        xanchor="center", yanchor="middle", showarrow=False,
        font=dict(family=FONT, size=38.5, color="black")))
    for p in range(4):
        k += 1
        top, bot = panel_box(half, p)
        vals = series[d][p]
        n = len(vals)
        xs = [2006 + 11 * i / (n - 1) for i in range(n)]
        xa = "x" if k == 1 else f"x{k}"
        ya = "y" if k == 1 else f"y{k}"
        fig.add_trace(go.Scatter(x=xs, y=vals, mode="lines",
                                 line=dict(color="black", width=3.4),
                                 xaxis=xa, yaxis=ya, hoverinfo="skip"))
        is_trend = (p == 3)
        tv, tt = y_ticks[d][p]
        layout["xaxis" if k == 1 else f"xaxis{k}"] = dict(
            domain=[x0 / W, x1 / W], range=[2006, 2017], anchor=ya,
            tickvals=year_ticks, ticktext=year_labels,
            showticklabels=is_trend, ticks="outside" if is_trend else "",
            ticklen=9, tickwidth=3.5, tickcolor="black",
            showgrid=True, gridcolor="#d9d9d9", gridwidth=1.5,
            zeroline=False, showline=False, fixedrange=True,
            tickfont=dict(family=FONT, size=25, color="black"))
        layout["yaxis" if k == 1 else f"yaxis{k}"] = dict(
            domain=[1 - bot / H, 1 - top / H], range=[0, tv[-1]], anchor=xa,
            tickvals=tv, ticktext=tt, ticks="outside", ticklen=9,
            tickwidth=3.5, tickcolor="black",
            showgrid=True, gridcolor="#eeeeee", gridwidth=1.5,
            zeroline=False, showline=False, fixedrange=True,
            tickfont=dict(family=FONT, size=25, color="black"))
        annotations.append(dict(
            text=panel_names[p], x=label_cx[col] / W, y=1 - (top - 39.5) / H,
            xref="paper", yref="paper", xanchor="center", yanchor="middle",
            showarrow=False, font=dict(family=FONT, size=31.5, color="black")))

layout["annotations"] = annotations
fig.update_layout(**layout)
fig.write_html("out.html", config={"displayModeBar": False},
               post_script="document.body.style.margin='0px';")
